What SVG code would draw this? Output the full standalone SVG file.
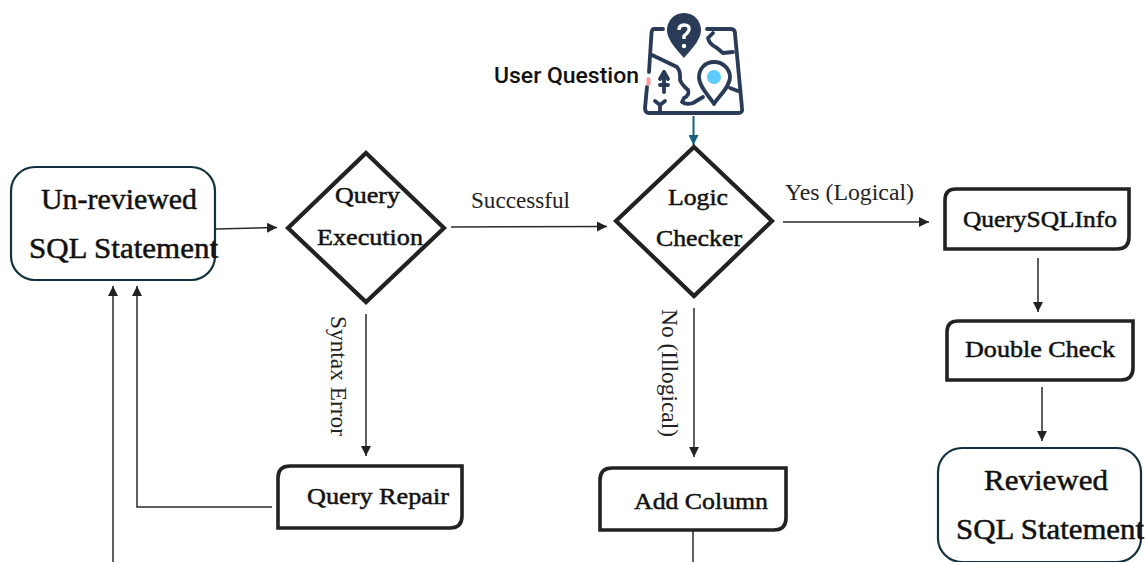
<svg xmlns="http://www.w3.org/2000/svg" width="1145" height="562" viewBox="0 0 1145 562">
<style>
.t{font-family:"Liberation Serif","Times New Roman",serif;fill:#111;stroke:#111;stroke-width:.5}
.l{font-family:"Liberation Serif","Times New Roman",serif;fill:#222;font-size:23px}
.big{font-size:29px}
.mid{font-size:24px}
.d{fill:#fff;stroke:#222;stroke-width:4.2;stroke-linejoin:miter}
.b{fill:#fff;stroke:#222;stroke-width:3.6}
.r{fill:#fff;stroke:#12303f;stroke-width:2.2}
.c{fill:none;stroke:#2a2a2a;stroke-width:1.5}
.i{fill:none;stroke:#2a3b57;stroke-width:3.8;stroke-linecap:round;stroke-linejoin:round}
</style>
<defs>
<marker id="a" markerUnits="userSpaceOnUse" markerWidth="11" markerHeight="10" refX="10" refY="5" orient="auto"><path d="M0 0L10 5L0 10Z" fill="#222"/></marker>
<marker id="u" markerUnits="userSpaceOnUse" markerWidth="11" markerHeight="10" refX="10" refY="5" orient="auto"><path d="M0 0L10 5L0 10Z" fill="#156082"/></marker>
</defs>
<g id="connectors">
<path class="c" d="M216 229L277 227.500" marker-end="url(#a)"/>
<path class="c" d="M451 227L607 226.500" marker-end="url(#a)"/>
<path class="c" d="M783 222L929 222" marker-end="url(#a)"/>
<path class="c" d="M366 314V456" marker-end="url(#a)"/>
<path class="c" d="M694 308V457" marker-end="url(#a)"/>
<path class="c" d="M1038 258V312" marker-end="url(#a)"/>
<path class="c" d="M1042 387V441" marker-end="url(#a)"/>
<path class="c" d="M272 507H137V286" marker-end="url(#a)"/>
<path class="c" d="M113 562V286" marker-end="url(#a)"/>
<path class="c" d="M693 531V562"/>
<path d="M693.500 116V145" fill="none" stroke="#156082" stroke-width="2" marker-end="url(#u)"/>
</g>
<g id="unreviewed"><rect class="r" x="11" y="167" width="204" height="113" rx="24"/><text class="t big" x="41" y="209" textLength="156" lengthAdjust="spacingAndGlyphs">Un-reviewed</text><text class="t big" x="29" y="258" textLength="189" lengthAdjust="spacingAndGlyphs">SQL Statement</text></g>
<g id="query-execution"><path class="d" d="M366 153L444 228L366 302L288 228Z"/><text class="t mid" x="335" y="203" textLength="65" lengthAdjust="spacingAndGlyphs">Query</text><text class="t mid" x="317" y="245" textLength="106" lengthAdjust="spacingAndGlyphs">Execution</text></g>
<g id="logic-checker"><path class="d" d="M694 147L772 221L694 296L616 221Z"/><text class="t mid" x="668" y="205" textLength="60" lengthAdjust="spacingAndGlyphs">Logic</text><text class="t mid" x="656" y="246" textLength="86" lengthAdjust="spacingAndGlyphs">Checker</text></g>
<g id="query-sql-info"><path class="b" d="M945 249V200Q945 189 956 189H1129V237Q1129 249 1117 249Z"/><text class="t mid" x="963" y="227" textLength="154" lengthAdjust="spacingAndGlyphs">QuerySQLInfo</text></g>
<g id="double-check"><path class="b" d="M947 380V332Q947 321 958 321H1133V368Q1133 380 1121 380Z"/><text class="t mid" x="965" y="357" textLength="150" lengthAdjust="spacingAndGlyphs">Double Check</text></g>
<g id="reviewed"><rect class="r" x="938" y="448" width="203" height="114" rx="24"/><text class="t big" x="984" y="490" textLength="124" lengthAdjust="spacingAndGlyphs">Reviewed</text><text class="t big" x="956" y="539" textLength="188" lengthAdjust="spacingAndGlyphs">SQL Statement</text></g>
<g id="query-repair"><path class="b" d="M278 528V478Q278 466 290 466H462V516Q462 528 450 528Z"/><text class="t mid" x="307" y="504" textLength="142" lengthAdjust="spacingAndGlyphs">Query Repair</text></g>
<g id="add-column"><path class="b" d="M600 530V480Q600 468 612 468H786V518Q786 530 774 530Z"/><text class="t mid" x="634" y="509" textLength="134" lengthAdjust="spacingAndGlyphs">Add Column</text></g>
<g id="user-question">
<text x="494" y="83" font-family="Roboto,'Liberation Sans',sans-serif" font-size="22" font-weight="500" fill="#111" textLength="145" lengthAdjust="spacingAndGlyphs">User Question</text>
<path class="i" d="M663 29H654Q652 29 651.500 33L649 72M647 87L645 108Q645 113 649 113H738Q743 113 742 108L735 34Q735 29 731 29H707"/>
<path class="i" d="M652 55L677 67Q681 72 680 80Q682 85 688 90Q690 95 684 98L682 102Q686 105 693 103L703 97"/>
<path class="i" d="M713 33L708 38Q709 44 717 48L723 53L733 52"/>
<path d="M684 13C673 13 667 22 667 30C667 41 680 53 684 58C688 53 701 41 701 30C701 22 695 13 684 13Z" fill="#2a3b57"/>
<path d="M679 30Q679 25 684 25Q690 25 689 30Q688 33 684 36V39" fill="none" stroke="#fff" stroke-width="3.400"/>
<circle cx="684" cy="46" r="2.200" fill="#fff"/>
<path class="i" d="M714 62C704 62 699 70 699 77C699 87 710 97 714 104C718 97 730 87 730 77C730 70 724 62 714 62Z"/>
<circle cx="714" cy="77" r="7" fill="#5ccbff"/>
<path class="i" d="M730 88L738 91"/>
<path class="i" d="M664 72V92M664 72L660 79M664 72L668 79M660 85L668 85"/>
<path class="i" d="M655 101L660 105L665 101M660 105V112"/>
<rect x="646.500" y="77" width="4" height="9" rx="2" fill="#ff9aa2"/>
</g>
<g id="labels">
<text class="l" x="471" y="208" textLength="99" lengthAdjust="spacingAndGlyphs">Successful</text>
<text class="l" x="785" y="200" textLength="129" lengthAdjust="spacingAndGlyphs">Yes (Logical)</text>
<text class="l" transform="translate(331 316) rotate(90)" textLength="120" lengthAdjust="spacingAndGlyphs">Syntax Error</text>
<text class="l" transform="translate(662 309) rotate(90)" textLength="128" lengthAdjust="spacingAndGlyphs">No (Illogical)</text>
</g>
</svg>
